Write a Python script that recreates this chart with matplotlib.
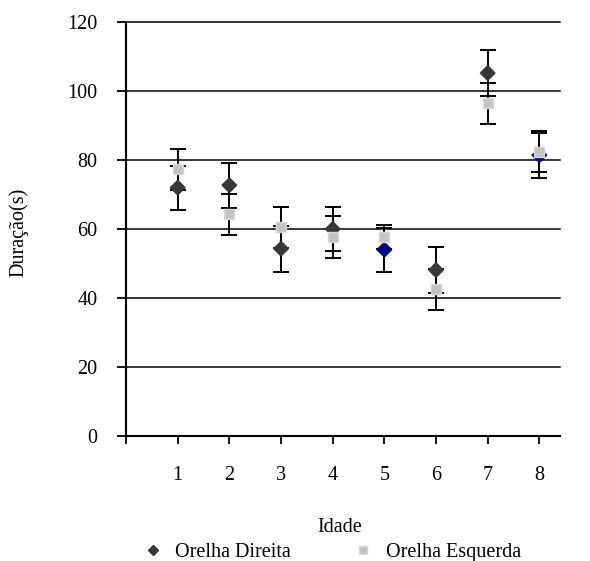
import numpy as np
import matplotlib.pyplot as plt

plt.rcParams['font.family'] = ['Liberation Serif', 'DejaVu Serif']

idade = [1, 2, 3, 4, 5, 6, 7, 8]
direita = [72.0, 72.7, 54.3, 60.0, 54.0, 48.1, 105.2, 81.4]
direita_err = [6.4, 6.5, 6.7, 6.3, 6.4, 6.6, 6.7, 6.5]
esquerda = [77.3, 64.3, 60.5, 57.6, 57.7, 42.5, 96.4, 82.4]
esquerda_err = [6.0, 5.9, 5.9, 6.1, 3.4, 6.0, 6.0, 5.9]
yticks = [0, 20, 40, 60, 80, 100, 120]

# two of the diamonds are drawn in navy in the original
cores_dir = ['#383838'] * 8
cores_dir[4] = '#000080'
cores_dir[7] = '#000080'

fs = 14.5
fig = plt.figure(figsize=(5.9, 5.61), dpi=100)
ax = fig.add_axes([0.2136, 0.2228, 0.7356, 0.738])

for y in yticks[1:]:
    ax.axhline(y, color='black', lw=1.1, zorder=1, clip_on=False)

ax.errorbar(idade, direita, yerr=direita_err, fmt='none', ecolor='black',
            elinewidth=1.4, capsize=5.5, capthick=1.4, zorder=2)
ax.errorbar(idade, esquerda, yerr=esquerda_err, fmt='none', ecolor='black',
            elinewidth=1.4, capsize=5.5, capthick=1.4, zorder=2)

ax.scatter(idade, direita, marker='D', s=55, c=cores_dir, zorder=3)
ax.scatter(idade, esquerda, marker='s', s=50, c='#c4c4c4',
           edgecolors='#d8d8d8', zorder=4)

ax.set_xlim(0, 8.4)
ax.set_ylim(0, 120)
ax.set_xticks([0] + idade)
ax.set_xticklabels([''] + [str(i) for i in idade])
ax.set_yticks(yticks)

for s in ['top', 'right']:
    ax.spines[s].set_visible(False)
ax.spines['left'].set_linewidth(1.5)
ax.spines['bottom'].set_linewidth(1.5)

ax.tick_params(axis='x', direction='out', length=5.5, width=1.3, pad=16, labelsize=fs)
ax.tick_params(axis='y', direction='out', length=6.5, width=1.3, pad=14, labelsize=fs)

fig.text(340 / 590, 1 - 528 / 561, 'Idade', fontsize=fs, ha='center', va='center')
fig.text(19 / 590, 1 - 232 / 561, 'Duração(s)', fontsize=fs, rotation=90,
         ha='center', va='center')

h1 = plt.Line2D([], [], marker='D', ls='none', color='#383838', markersize=5)
h2 = plt.Line2D([], [], marker='s', ls='none', color='#c4c4c4',
                markeredgecolor='#d8d8d8', markersize=6)
fig.legend([h1, h2], ['Orelha Direita', 'Orelha Esquerda'], loc='center left',
           bbox_to_anchor=(141 / 590, 1 - 552 / 561), ncol=2, frameon=False,
           fontsize=fs, borderpad=0, borderaxespad=0,
           handletextpad=0.5, columnspacing=3.0, handlelength=1.2)

fig.savefig('out.png', dpi=100)
